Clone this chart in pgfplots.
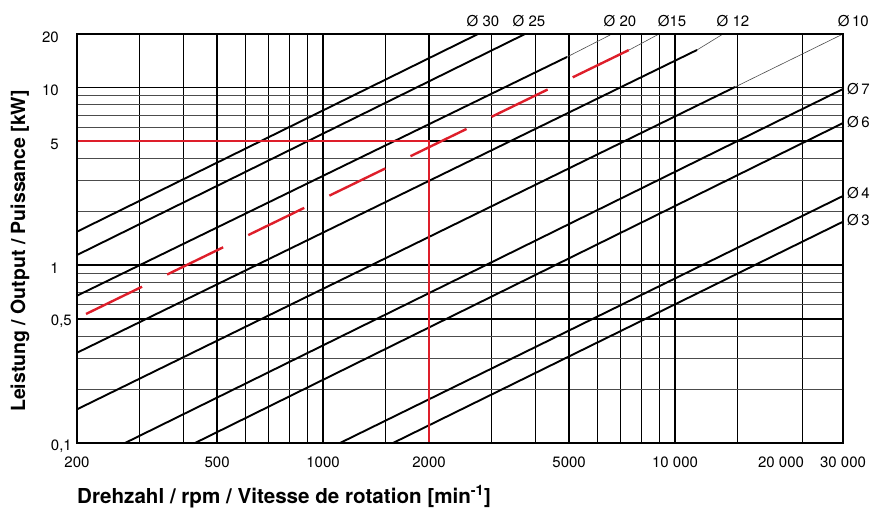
\documentclass[border=0pt]{standalone}
\usepackage{fontspec}
\setmainfont{TeX Gyre Heros}
\usepackage{pgfplots}
\pgfplotsset{compat=1.18}
\definecolor{redl}{RGB}{222,30,42}
\newcommand{\tf}{\fontsize{15}{18}\selectfont}
\newcommand{\lf}{\bfseries\fontsize{19.5}{22}\selectfont}
\newcommand{\xlf}{\bfseries\fontsize{20.6}{23}\selectfont}
\begin{document}
\begin{tikzpicture}
\begin{axis}[
  at={(77pt,-443pt)}, anchor=south west,
  width=766pt, height=409pt, scale only axis,
  xmode=log, ymode=log,
  xmin=200, xmax=30000, ymin=0.1, ymax=20,
  axis on top,
  axis line style={line width=1.8pt, black},
  major tick length=0pt, minor tick length=0pt,
  xtick={200,500,1000,2000,5000,10000,20000,30000},
  xticklabels={200,500,1000,2000,5000,10 000,20 000,30 000},
  ytick={0.1,0.5,1,5,10,20},
  yticklabels={{0,1},{0,5},{1\hspace*{13pt}},{5\hspace*{13pt}},{10\hspace*{13pt}},{20\hspace*{13pt}}},
  xticklabel style={font=\tf, anchor=north, inner sep=0pt, yshift=-14pt},
  yticklabel style={font=\tf, anchor=east, inner sep=0pt, xshift=-5pt, yshift=-3pt},
  /pgf/number format/assume math mode=true,
]
% thin vertical grid lines
\pgfplotsinvokeforeach{300,400,600,700,800,900,1500,3000,4000,6000,7000,8000,9000,15000,23000}{
  \addplot[black, line width=0.9pt, forget plot] coordinates {(#1,0.1) (#1,20)};
}
% thin horizontal grid lines
\pgfplotsinvokeforeach{0.2,0.3,0.4,0.6,0.7,0.8,0.9,2,3,4,6,7,8,9}{
  \addplot[black!70, line width=0.85pt, forget plot] coordinates {(200,#1) (30000,#1)};
}
% thick grid lines
\pgfplotsinvokeforeach{500,1000,2000,5000,10000}{
  \addplot[black, line width=1.8pt, forget plot] coordinates {(#1,0.1) (#1,20)};
}
\pgfplotsinvokeforeach{0.5,1,5,10}{
  \addplot[black, line width=1.8pt, forget plot] coordinates {(200,#1) (30000,#1)};
}
% diameter lines
\addplot[black, line width=1.9pt] coordinates {(200,1.545) (2756,20)};   % 30
\addplot[black, line width=1.9pt] coordinates {(200,1.142) (3748,20)};   % 25
\addplot[black, line width=1.9pt] coordinates {(200,0.674) (4932,14.85)}; % 20
\addplot[black!70, line width=0.6pt] coordinates {(4932,14.85) (6622,20)};
\addplot[black!70, line width=0.6pt] coordinates {(6100,13.6) (7498,16.47) (9004,20)}; % 15 thin
\addplot[black, line width=1.9pt] coordinates {(200,0.322) (11544,16.26)}; % 12
\addplot[black!70, line width=0.6pt] coordinates {(11544,16.26) (13686,20)};
\addplot[black, line width=1.9pt] coordinates {(200,0.1547) (14800,10.06)}; % 10
\addplot[black!70, line width=0.6pt] coordinates {(14800,10.06) (30000,20)};
\addplot[black, line width=1.9pt] coordinates {(273.8,0.1) (30000,9.81)};  % 7
\addplot[black, line width=1.9pt] coordinates {(432.8,0.1) (30000,6.31)};  % 6
\addplot[black, line width=1.9pt] coordinates {(1117,0.1) (30000,2.454)};  % 4
\addplot[black, line width=1.9pt] coordinates {(1580,0.1) (30000,1.758)};  % 3
% red example
\addplot[redl, line width=2.4pt] coordinates {(200,5) (2000,5) (2000,0.1)};
\addplot[redl, line width=2.4pt, dash pattern=on 62.3pt off 27.9pt] coordinates {(212.1,0.532) (7498,16.47)};
\end{axis}
\begin{scope}[every node/.style={inner sep=0pt, font=\tf}]
\node[anchor=base] at (483pt,-27pt) {Ø 30};
\node[anchor=base] at (529pt,-27pt) {Ø 25};
\node[anchor=base] at (620pt,-27pt) {Ø 20};
\node[anchor=base] at (672pt,-27pt) {Ø15};
\node[anchor=base] at (733pt,-27pt) {Ø 12};
\node[anchor=base east] at (869pt,-27pt) {Ø\,10};
\node[anchor=base west] at (847pt,-95pt) {Ø\,7};
\node[anchor=base west] at (847pt,-128pt) {Ø\,6};
\node[anchor=base west] at (847pt,-198pt) {Ø\,4};
\node[anchor=base west] at (847pt,-225pt) {Ø\,3};
\end{scope}
\node[anchor=base west, inner sep=0pt, font=\xlf] at (77pt,-503pt) {Drehzahl / rpm / Vitesse de rotation [min\textsuperscript{-1}]};
\node[rotate=90, anchor=base west, inner sep=0pt, font=\lf] at (25pt,-412pt) {Leistung / Output / Puissance [kW]};
\pgfresetboundingbox
\path[use as bounding box] (0pt,0pt) rectangle (870pt,-508pt);
\end{tikzpicture}
\end{document}
